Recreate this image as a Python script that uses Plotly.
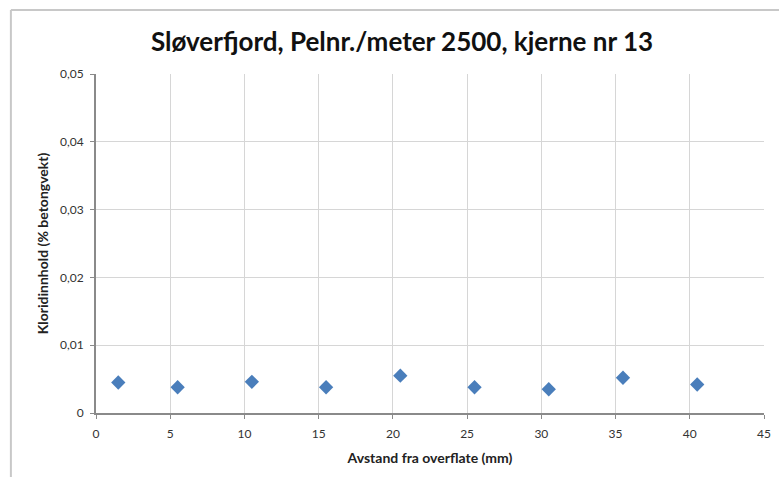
import plotly.graph_objects as go

depth_mm = [1.5, 5.5, 10.5, 15.5, 20.5, 25.5, 30.5, 35.5, 40.5]
chloride = [0.0045, 0.0038, 0.0046, 0.0038, 0.0055, 0.0038, 0.0035, 0.0052, 0.0042]

x_ticks = [0, 5, 10, 15, 20, 25, 30, 35, 40, 45]
y_ticks = [0, 0.01, 0.02, 0.03, 0.04, 0.05]
y_tick_labels = ["0", "0,01", "0,02", "0,03", "0,04", "0,05"]

title_text = "Sløverfjord, Pelnr./meter 2500, kjerne nr 13"
x_title = "Avstand fra overflate (mm)"
y_title = "Kloridinnhold (% betongvekt)"

FONT = "Lato"

fig = go.Figure()
fig.add_trace(go.Scatter(
    x=depth_mm, y=chloride, mode="markers",
    marker=dict(symbol="diamond", size=11, color="#4a7ebb"),
    showlegend=False, hoverinfo="x+y",
))

fig.update_layout(
    width=779, height=477,
    margin=dict(l=96, r=8, t=74, b=64),
    paper_bgcolor="white", plot_bgcolor="white",
    font=dict(family=FONT, color="#333333", size=11),
    title=dict(text="<b>" + title_text + "</b>", x=402 / 779, xanchor="center",
               y=1 - 42 / 477, yanchor="middle",
               font=dict(family=FONT, size=26, color="#111111")),
    xaxis=dict(
        range=[0, 45], tickvals=x_ticks, ticktext=[str(v) for v in x_ticks],
        showgrid=True, gridcolor="#d6d6d6", gridwidth=1,
        showline=True, linecolor="#8a8a8a", linewidth=2,
        ticks="outside", ticklen=4, tickcolor="#8a8a8a",
        ticklabelstandoff=5,
        zeroline=False,
        title=dict(text="<b>" + x_title + "</b>", standoff=13,
                   font=dict(family=FONT, size=14, color="#222222")),
        tickfont=dict(size=12, color="#333333"),
    ),
    yaxis=dict(
        range=[0, 0.05], tickvals=y_ticks, ticktext=y_tick_labels,
        showgrid=True, gridcolor="#d6d6d6", gridwidth=1,
        showline=True, linecolor="#8a8a8a", linewidth=2,
        ticks="outside", ticklen=4, tickcolor="#8a8a8a",
        ticklabelstandoff=4,
        zeroline=False,
        title=dict(text="<b>" + y_title + "</b>", standoff=8,
                   font=dict(family=FONT, size=14, color="#222222")),
        tickfont=dict(size=12, color="#333333"),
    ),
    shapes=[
        dict(type="line", xref="paper", yref="paper",
             x0=-86 / 675, x1=1.05, y0=1 + 64 / 339, y1=1 + 64 / 339,
             line=dict(color="#c8c8c8", width=2)),
        dict(type="line", xref="paper", yref="paper",
             x0=-86 / 675, x1=-86 / 675, y0=1 + 64 / 339, y1=-0.3,
             line=dict(color="#c8c8c8", width=2)),
    ],
)

fig.write_html("out.html")
